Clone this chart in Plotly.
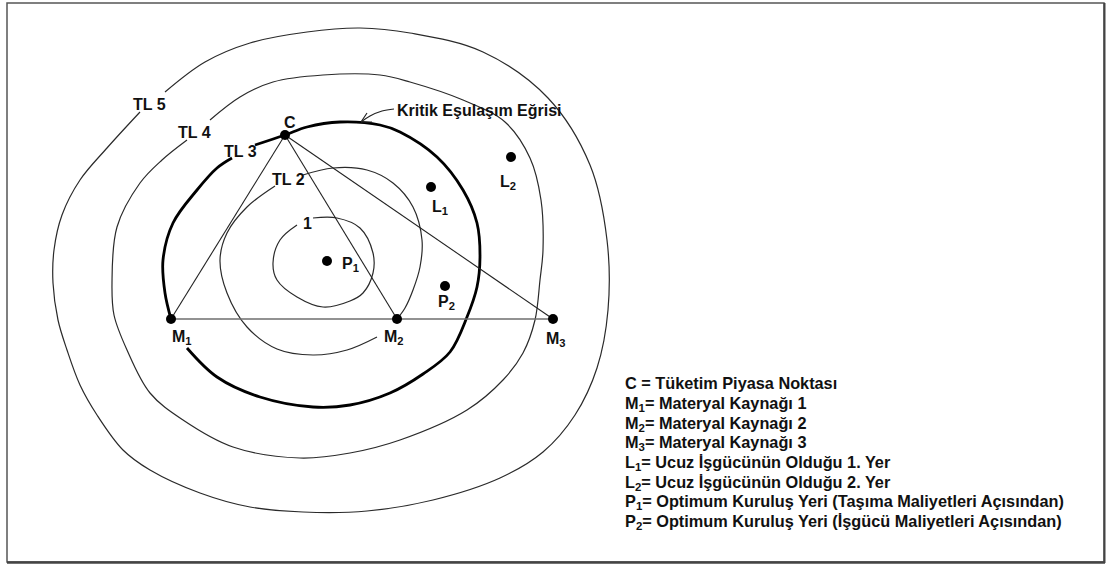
import plotly.graph_objects as go

# ---- Marked locations (diagram coordinates, y grows downward) ----
point_names = ["C", "M1", "M2", "M3", "P1", "P2", "L1", "L2"]
point_x = [285, 171, 397, 553, 327, 445, 431, 511]
point_y = [135, 319, 319, 319, 261, 286, 187, 157]

# ---- Isocost contour lines (each split where a label interrupts it) ----
tl5_x = [165, 205, 250, 307, 360, 410, 483, 548, 590, 607, 608, 597, 575, 543, 500, 433, 367, 303, 250, 200, 150, 123, 97, 80, 67, 58, 53, 54, 62, 80, 107, 140]
tl5_y = [92, 62, 43, 32, 28, 33, 52, 98, 165, 240, 310, 368, 415, 452, 478, 500, 511, 512, 507, 493, 470, 450, 415, 385, 350, 320, 283, 250, 215, 180, 148, 112]

tl4_x = [210, 240, 273, 323, 380, 410, 463, 505, 530, 541, 543, 540, 535, 523, 503, 467, 400, 350, 300, 233, 183, 150, 127, 114, 112, 117, 140, 162, 187]
tl4_y = [120, 97, 82, 75, 75, 82, 100, 122, 158, 200, 250, 280, 320, 353, 380, 410, 440, 453, 458, 447, 420, 393, 350, 315, 283, 227, 183, 160, 140]

tl3a_x = [255, 285, 307, 340, 380, 400, 437, 463, 477, 480, 477, 467, 450, 423, 390, 350, 313, 260, 217, 187]
tl3a_y = [145, 135, 127, 122, 125, 132, 157, 190, 223, 257, 287, 317, 352, 374, 393, 405, 407, 397, 377, 348]
tl3b_x = [171, 165, 163, 173, 197, 217, 232]
tl3b_y = [319, 293, 260, 223, 190, 168, 158]

tl2a_x = [303, 333, 367, 393, 413, 422, 420, 413, 405, 397]
tl2a_y = [175, 168, 170, 183, 207, 240, 267, 290, 308, 319]
tl2b_x = [377, 347, 313, 277, 247, 227, 220, 227, 247, 275]
tl2b_y = [337, 350, 355, 349, 327, 293, 260, 233, 207, 186]

ring1_x = [313, 337, 360, 373, 373, 363, 350, 323, 297, 277, 273, 280, 297]
ring1_y = [218, 218, 228, 253, 273, 293, 301, 307, 297, 280, 263, 240, 225]

# ---- Kritik arrow ----
arrow_x = [394, 382, 370, 361]
arrow_y = [109, 111, 116, 122]
arrowhead_x = [367, 361, 372]
arrowhead_y = [113, 122, 122]

# ---- Diagram labels ----
label_text = ["C", "M<sub>1</sub>", "M<sub>2</sub>", "M<sub>3</sub>", "P<sub>1</sub>", "P<sub>2</sub>",
              "L<sub>1</sub>", "L<sub>2</sub>", "TL 5", "TL 4", "TL 3", "TL 2", "1"]
label_x = [290, 182, 394, 556, 350, 446, 440, 508, 149, 194, 240, 288, 307]
label_y = [122, 337, 337, 339, 264, 302, 207, 182, 104, 132, 151, 179, 223]

kritik_text = "Kritik Eşulaşım Eğrisi"
kritik_x, kritik_y = 395, 110

# ---- Key text ----
legend_lines = [
    "C = Tüketim Piyasa Noktası",
    "M<sub>1</sub>= Materyal Kaynağı 1",
    "M<sub>2</sub>= Materyal Kaynağı 2",
    "M<sub>3</sub>= Materyal Kaynağı 3",
    "L<sub>1</sub>= Ucuz İşgücünün Olduğu 1. Yer",
    "L<sub>2</sub>= Ucuz İşgücünün Olduğu 2. Yer",
    "P<sub>1</sub>= Optimum Kuruluş Yeri (Taşıma Maliyetleri Açısından)",
    "P<sub>2</sub>= Optimum Kuruluş Yeri (İşgücü Maliyetleri Açısından)",
]
legend_x = 623
legend_y = [383, 404, 424, 443, 463, 483, 502, 522]

FONT = "Liberation Sans, Arial, Helvetica, sans-serif"
FSIZE = 16
LSIZE = 16.3

fig = go.Figure()

def curve(xs, ys, width, color):
    fig.add_trace(go.Scatter(x=xs, y=ys, mode="lines",
                             line=dict(shape="spline", smoothing=1.0, width=width, color=color),
                             hoverinfo="skip", showlegend=False))

# contours
for xs, ys in [(tl5_x, tl5_y), (tl4_x, tl4_y), (tl2a_x, tl2a_y), (tl2b_x, tl2b_y), (ring1_x, ring1_y)]:
    curve(xs, ys, 1.2, "#2a2a2a")
for xs, ys in [(tl3a_x, tl3a_y), (tl3b_x, tl3b_y)]:
    curve(xs, ys, 2.8, "#000000")

# triangle lines
ci = point_names.index("C")
for nm in ["M1", "M2", "M3"]:
    i = point_names.index(nm)
    fig.add_trace(go.Scatter(x=[point_x[ci], point_x[i]], y=[point_y[ci], point_y[i]], mode="lines",
                             line=dict(width=1.1, color="#222222"), hoverinfo="skip", showlegend=False))
i1, i3 = point_names.index("M1"), point_names.index("M3")
fig.add_trace(go.Scatter(x=[point_x[i1], point_x[i3]], y=[point_y[i1], point_y[i3]], mode="lines",
                         line=dict(width=1.6, color="#6e6e6e"), hoverinfo="skip", showlegend=False))

# arrow
curve(arrow_x, arrow_y, 1.2, "#222222")
fig.add_trace(go.Scatter(x=arrowhead_x, y=arrowhead_y, mode="lines",
                         line=dict(width=1.2, color="#222222"), hoverinfo="skip", showlegend=False))

# points
fig.add_trace(go.Scatter(x=point_x, y=point_y, mode="markers",
                         marker=dict(size=10, color="#000000"), hoverinfo="skip", showlegend=False))

annotations = []
for t, x, y in zip(label_text, label_x, label_y):
    annotations.append(dict(x=x, y=y, xref="x", yref="y", text=t, showarrow=False,
                            xanchor="center", yanchor="middle",
                            font=dict(family=FONT, size=FSIZE, color="#111111", weight="bold")))
annotations.append(dict(x=kritik_x, y=kritik_y, xref="x", yref="y", text=kritik_text, showarrow=False,
                        xanchor="left", yanchor="middle",
                        font=dict(family=FONT, size=FSIZE, color="#111111", weight="bold")))
for t, y in zip(legend_lines, legend_y):
    annotations.append(dict(x=legend_x, y=y, xref="x", yref="y", text=t, showarrow=False,
                            xanchor="left", yanchor="middle",
                            font=dict(family=FONT, size=LSIZE, color="#111111", weight="bold")))

shapes = [
    dict(type="rect", xref="x", yref="y", x0=7, y0=3, x1=1104, y1=562,
         line=dict(color="#555555", width=1.5), fillcolor="rgba(0,0,0,0)"),
    dict(type="line", xref="x", yref="y", x0=7, y0=562.5, x1=1105, y1=562.5,
         line=dict(color="#444444", width=2.5)),
    dict(type="line", xref="x", yref="y", x0=1104.5, y0=3, x1=1104.5, y1=563,
         line=dict(color="#444444", width=2)),
]

fig.update_layout(
    width=1111, height=568,
    margin=dict(l=0, r=0, t=0, b=0, pad=0),
    paper_bgcolor="white", plot_bgcolor="white",
    xaxis=dict(range=[0, 1111], visible=False, fixedrange=True),
    yaxis=dict(range=[568, 0], visible=False, fixedrange=True),
    annotations=annotations, shapes=shapes,
    showlegend=False,
    hovermode=False,
)

fig.write_html("out.html",
               config={"displayModeBar": False, "staticPlot": True},
               post_script="document.body.style.margin='0';document.body.style.overflow='hidden';")
